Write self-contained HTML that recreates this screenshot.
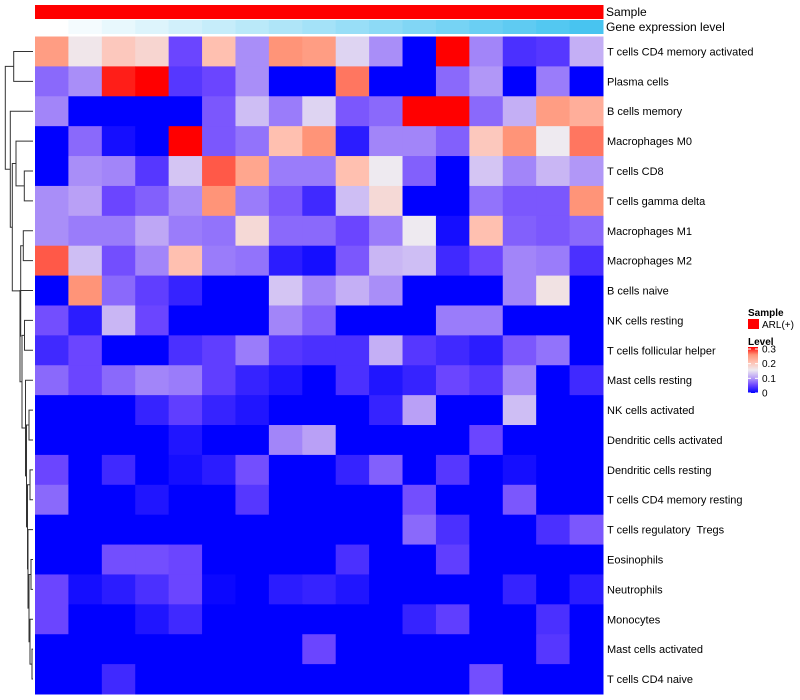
<!DOCTYPE html>
<html><head><meta charset="utf-8"><style>
body{margin:0;background:#fff;}
svg{display:block;font-family:"Liberation Sans",Arial,sans-serif;}
#rowlabels text{white-space:pre;}
</style></head><body>
<svg id="chart" width="800" height="700" viewBox="0 0 800 700">
<g id="dendro" stroke="#333" stroke-width="1" fill="none"></g>
<g id="annot"></g>
<g id="cells"></g>
<g id="rowlabels" font-size="11" fill="#000" xml:space="preserve"></g>
<text x="606" y="16" font-size="12">Sample</text>
<text x="606" y="31" font-size="12">Gene expression level</text>
<g>
<text x="748" y="316" font-size="10" font-weight="bold">Sample</text>
<rect x="748" y="319" width="11" height="10" fill="#ff0000"></rect>
<text x="762" y="328" font-size="10">ARL(+)</text>
<text x="748" y="345" font-size="10" font-weight="bold">Level</text>
<defs><linearGradient id="lg" x1="0" y1="1" x2="0" y2="0">
<stop offset="0" stop-color="#0000ff"/><stop offset="0.17" stop-color="#6b45ff"/><stop offset="0.33" stop-color="#b9a0f6"/><stop offset="0.5" stop-color="#eeeaf0"/><stop offset="0.67" stop-color="#ffc0b0"/><stop offset="0.83" stop-color="#ff9478"/><stop offset="1" stop-color="#ff0000"/></linearGradient></defs>
<rect x="748" y="347" width="10" height="46" fill="url(#lg)"></rect>
<g id="legticks" font-size="10"></g>
</g>
</svg>
<script>
const rowNames=["T cells CD4 memory activated","Plasma cells","B cells memory","Macrophages M0","T cells CD8","T cells gamma delta","Macrophages M1","Macrophages M2","B cells naive","NK cells resting","T cells follicular helper","Mast cells resting","NK cells activated","Dendritic cells activated","Dendritic cells resting","T cells CD4 memory resting","T cells regulatory  Tregs","Eosinophils","Neutrophils","Monocytes","Mast cells activated","T cells CD4 naive"];
const r0=[0.24,0.155,0.19,0.175,0.05,0.2,0.09,0.25,0.24,0.135,0.09,0,0.3,0.085,0.035,0.04,0.11];
const r1=[0.07,0.09,0.29,0.3,0.04,0.05,0.09,0,0,0.26,0,0,0.07,0.095,0,0.08,0];
const r2=[0.085,0,0,0,0,0.06,0.12,0.08,0.135,0.06,0.07,0.3,0.3,0.07,0.11,0.24,0.22];
const r3=[0,0.07,0.01,0,0.3,0.06,0.075,0.2,0.25,0.02,0.085,0.085,0.065,0.19,0.25,0.15,0.26];
const r4=[0,0.09,0.085,0.04,0.125,0.27,0.23,0.08,0.08,0.2,0.15,0.065,0,0.125,0.085,0.115,0.095];
const r5=[0.09,0.1,0.05,0.065,0.09,0.25,0.08,0.06,0.03,0.12,0.17,0,0,0.075,0.06,0.06,0.25];
const r6=[0.09,0.08,0.08,0.105,0.08,0.075,0.17,0.07,0.07,0.05,0.08,0.15,0.01,0.2,0.065,0.06,0.07];
const r7=[0.27,0.12,0.055,0.085,0.2,0.08,0.075,0.02,0.01,0.06,0.115,0.12,0.03,0.05,0.085,0.08,0.035];
const r8=[0,0.25,0.07,0.045,0.025,0,0,0.125,0.085,0.11,0.09,0,0,0,0.085,0.16,0];
const r9=[0.055,0.02,0.115,0.05,0,0,0,0.085,0.065,0,0,0,0.08,0.08,0,0,0];
const r10=[0.03,0.05,0,0,0.035,0.045,0.08,0.04,0.035,0.035,0.11,0.04,0.03,0.02,0.06,0.075,0];
const r11=[0.07,0.05,0.07,0.085,0.08,0.045,0.025,0.015,0,0.035,0.015,0.025,0.05,0.04,0.085,0,0.03];
const r12=[0,0,0,0.025,0.045,0.025,0.015,0,0,0,0.025,0.1,0,0,0.12,0,0];
const r13=[0,0,0,0,0.015,0,0,0.085,0.1,0,0,0,0,0.05,0,0,0];
const r14=[0.05,0,0.03,0,0.01,0.02,0.055,0,0,0.025,0.065,0,0.04,0,0.01,0,0];
const r15=[0.07,0,0,0.015,0,0,0.04,0,0,0,0,0.055,0,0,0.06,0,0];
const r16=[0,0,0,0,0,0,0,0,0,0,0,0.07,0.035,0,0,0.035,0.06];
const r17=[0,0,0.055,0.055,0.05,0,0,0,0,0.035,0,0,0.045,0,0,0,0];
const r18=[0.05,0.01,0.02,0.035,0.05,0.005,0,0.02,0.025,0.015,0,0,0,0,0.025,0,0.02];
const r19=[0.05,0,0,0.015,0.03,0,0,0,0,0,0,0.025,0.045,0,0,0.035,0];
const r20=[0,0,0,0,0,0,0,0,0.05,0,0,0,0,0,0,0.04,0];
const r21=[0,0,0.03,0,0,0,0,0,0,0,0,0,0,0.055,0,0,0];
const values=[r0,r1,r2,r3,r4,r5,r6,r7,r8,r9,r10,r11,r12,r13,r14,r15,r16,r17,r18,r19,r20,r21];
const geneLevel=[0,1,2,3,4,5,6,7,8,9,10,11,12,13,14,15,16];
const legendTicks=[0,0.1,0.2,0.3];

const NS="http://www.w3.org/2000/svg";
const X0=35,X1=603,Y0=36.5,Y1=694;
const nC=r0.length,nR=values.length;
const cw=(X1-X0)/nC,rh=(Y1-Y0)/nR;
const xPos=c=>X0+c*cw, yPos=r=>Y0+r*rh;
const stops=[[0,[0,0,255]],[0.05,[107,69,255]],[0.1,[185,160,246]],[0.15,[238,234,240]],[0.2,[255,192,176]],[0.25,[255,148,120]],[0.3,[255,0,0]]];
function color(v){v=Math.max(0,Math.min(0.3,v));for(let i=1;i<stops.length;i++){if(v<=stops[i][0]){const a=stops[i-1],b=stops[i],t=(v-a[0])/(b[0]-a[0]);return 'rgb('+a[1].map((x,k)=>Math.round(x+(b[1][k]-x)*t)).join(',')+')';}}return 'rgb(255,0,0)';}
function mk(tag,attrs,parent){const e=document.createElementNS(NS,tag);for(const k in attrs)e.setAttribute(k,attrs[k]);parent.appendChild(e);return e;}

const cells=document.getElementById('cells');
values.forEach((row,r)=>row.forEach((v,c)=>{
 const e=mk('rect',{x:xPos(c),y:yPos(r),width:cw+0.5,height:rh+0.5,fill:color(v)},cells);
 
 
}));
const annot=document.getElementById('annot');
geneLevel.forEach((g,c)=>{
 const s=mk('rect',{x:xPos(c),y:5,width:cw+0.5,height:14,fill:'#ff0000'},annot);
 
 
 const t=g/16;
 const col='rgb('+Math.round(255-(255-72)*t)+','+Math.round(255-(255-196)*t)+','+Math.round(255-(255-240)*t)+')';
 const e=mk('rect',{x:xPos(c),y:20,width:cw+0.5,height:14,fill:col},annot);
 
 
});
const rl=document.getElementById('rowlabels');
rowNames.forEach((n,r)=>{
 const e=mk('text',{x:607,y:yPos(r)+rh/2+4},rl);
 e.textContent=n;
 
 
});
const lt=document.getElementById('legticks');
legendTicks.forEach(v=>{
 const y=393-v/0.3*44;
 const e=mk('text',{x:762,y:y+3.5},lt);
 e.textContent=String(v);
 
 
 mk('line',{x1:748,x2:751,y1:y,y2:y,stroke:'#fff'},lt);
 mk('line',{x1:755,x2:758,y1:y,y2:y,stroke:'#fff'},lt);
});
const tree=[5.3,[13.7,0,1],[10.3,2,[12.3,[16,3,[24.3,4,5]],[20.7,[23.3,6,7],[20,8,[22,[24.5,9,10],[25.5,11,[26.5,[29,12,13],[27.5,[30,14,15],[28,16,[29,[31,17,18],[30,19,[32,20,21]]]]]]]]]]]]];
const dg=document.getElementById('dendro');
function draw(n){
 if(typeof n==='number')return {y:yPos(n)+rh/2,x:33};
 const a=draw(n[1]),b=draw(n[2]),h=n[0];
 const p=mk('path',{d:`M${a.x},${a.y}H${h}V${b.y}H${b.x}`},dg);
 
 
 return {y:(a.y+b.y)/2,x:h};
}
draw(tree);
</script>
</body></html>
